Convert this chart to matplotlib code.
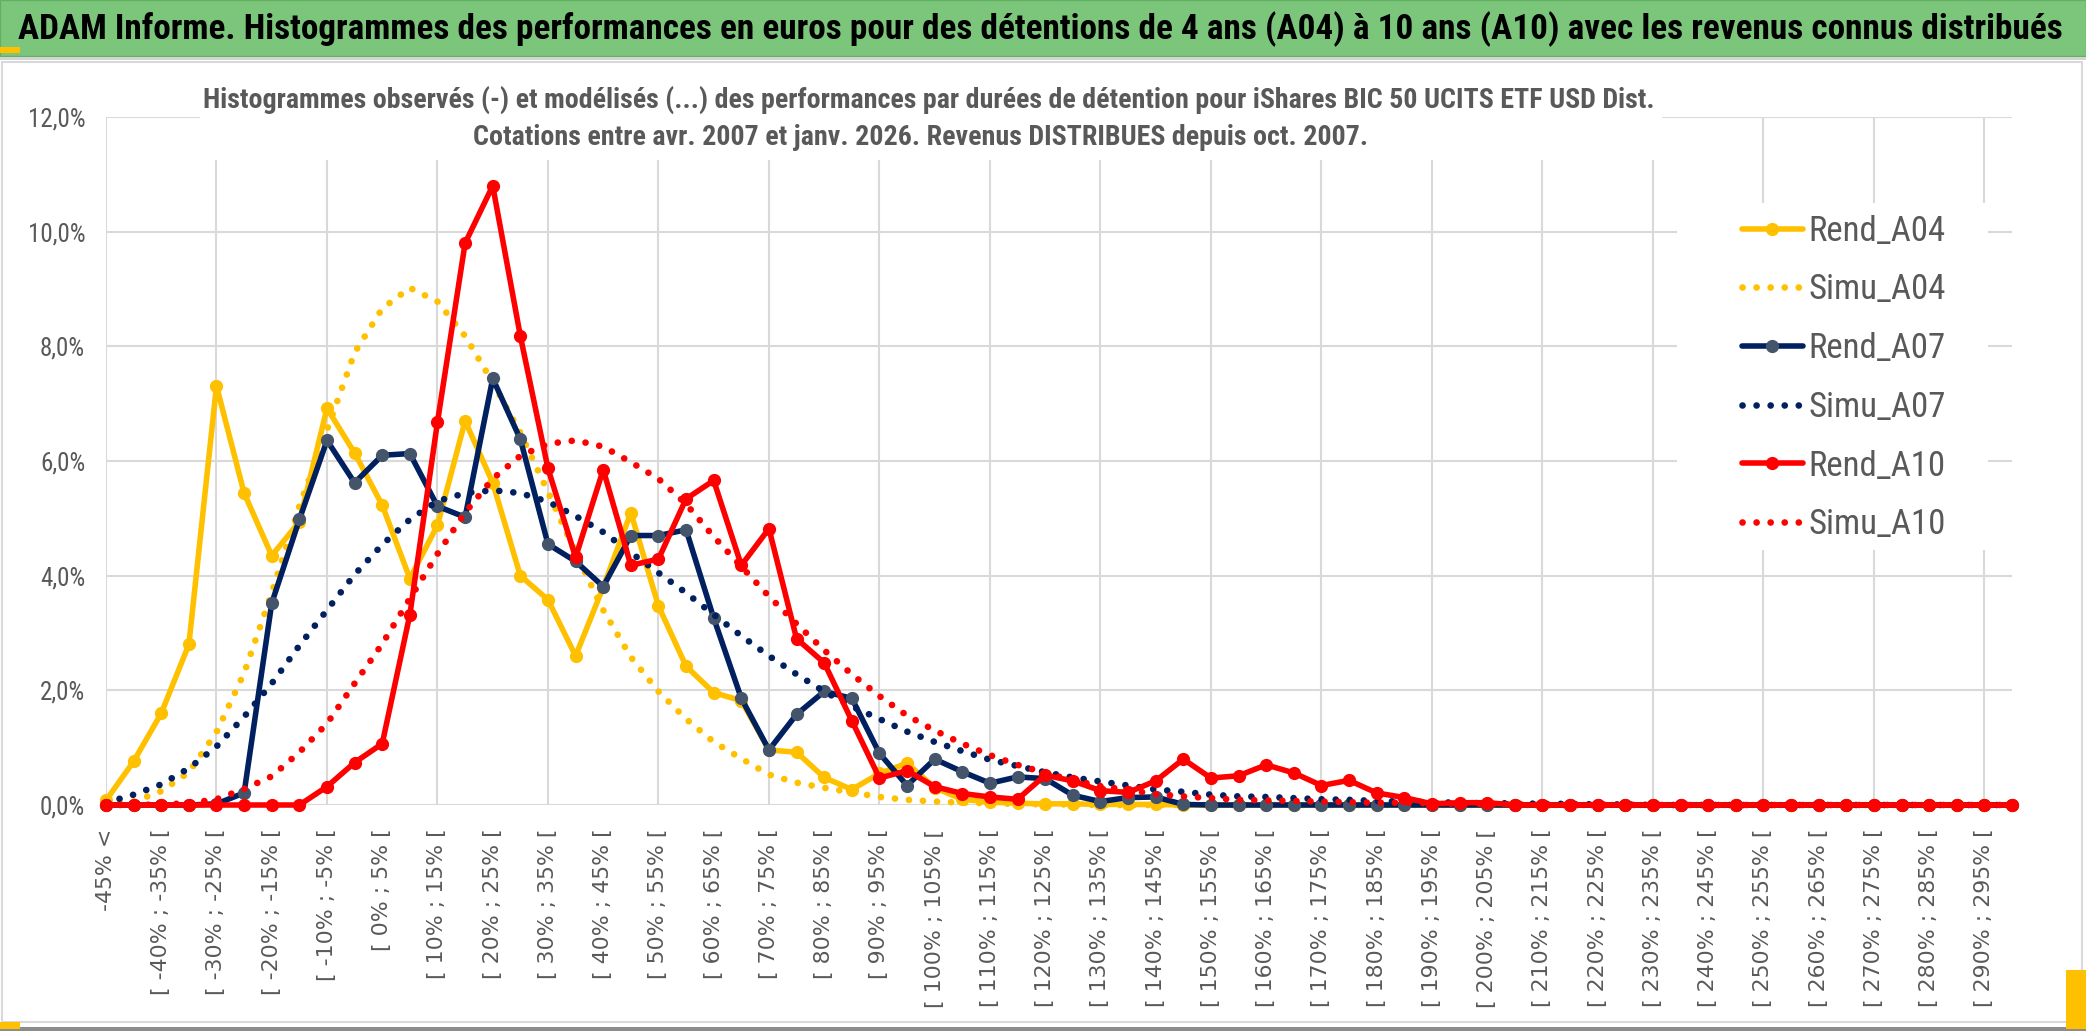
import matplotlib
matplotlib.use("Agg")
import matplotlib.pyplot as plt
from matplotlib.patches import Rectangle
from matplotlib.ticker import FuncFormatter

# classes de performance : "-45% <" puis des tranches de 5%
categories = ["-45% <"] + ["[ %d%% ; %d%% [" % (lo, lo + 5) for lo in range(-45, 300, 5)]

# frequences en %
rend_a04 = [0.08, 0.76, 1.60, 2.80, 7.31, 5.44, 4.35, 4.94, 6.92, 6.14,
            5.23, 3.95, 4.88, 6.70, 5.62, 4.00, 3.58, 2.60, 3.80, 5.10,
            3.47, 2.42, 1.96, 1.82, 0.96, 0.92, 0.48, 0.27, 0.55, 0.73,
            0.30, 0.10, 0.05, 0.03, 0.02, 0.02, 0.01, 0.01, 0.01, 0.00,
            0, 0, 0, 0, 0, 0, 0, 0, 0, 0,
            0, 0, 0, 0, 0, 0, 0, 0, 0, 0,
            0, 0, 0, 0, 0, 0, 0, 0, 0, 0]
simu_a04 = [0.01, 0.06, 0.24, 0.57, 1.27, 2.30, 3.70, 5.21, 6.54, 7.89,
            8.66, 9.02, 8.78, 8.18, 7.37, 6.49, 5.46, 4.40, 3.40, 2.58,
            1.98, 1.50, 1.10, 0.81, 0.53, 0.39, 0.30, 0.22, 0.14, 0.09,
            0.06, 0.04, 0.03, 0.02, 0.01, 0.01, 0, 0, 0, 0,
            0, 0, 0, 0, 0, 0, 0, 0, 0, 0,
            0, 0, 0, 0, 0, 0, 0, 0, 0, 0,
            0, 0, 0, 0, 0, 0, 0, 0, 0, 0]
rend_a07 = [0.00, 0.00, 0.00, 0.00, 0.02, 0.21, 3.52, 4.98, 6.36, 5.62,
            6.10, 6.13, 5.21, 5.02, 7.44, 6.38, 4.55, 4.25, 3.81, 4.70,
            4.70, 4.80, 3.26, 1.86, 0.96, 1.58, 1.98, 1.86, 0.90, 0.34,
            0.80, 0.58, 0.38, 0.49, 0.46, 0.17, 0.06, 0.13, 0.14, 0.01,
            0, 0, 0, 0, 0, 0, 0, 0, 0, 0,
            0, 0, 0, 0, 0, 0, 0, 0, 0, 0,
            0, 0, 0, 0, 0, 0, 0, 0, 0, 0]
simu_a07 = [0.04, 0.18, 0.36, 0.64, 1.02, 1.54, 2.12, 2.78, 3.40, 4.02,
            4.54, 4.98, 5.30, 5.44, 5.49, 5.44, 5.29, 5.04, 4.76, 4.40,
            4.05, 3.70, 3.32, 2.95, 2.60, 2.28, 1.98, 1.72, 1.50, 1.28,
            1.10, 0.94, 0.79, 0.68, 0.57, 0.48, 0.41, 0.34, 0.27, 0.23,
            0.18, 0.15, 0.14, 0.12, 0.10, 0.09, 0.07, 0.06, 0.05, 0.04,
            0.03, 0.03, 0.02, 0.02, 0.01, 0.01, 0, 0, 0, 0,
            0, 0, 0, 0, 0, 0, 0, 0, 0, 0]
rend_a10 = [0, 0, 0, 0, 0, 0, 0, 0, 0.32, 0.74,
            1.07, 3.32, 6.68, 9.80, 10.80, 8.18, 5.87, 4.32, 5.85, 4.18,
            4.29, 5.34, 5.66, 4.18, 4.82, 2.90, 2.48, 1.47, 0.47, 0.60,
            0.32, 0.20, 0.14, 0.10, 0.52, 0.42, 0.25, 0.22, 0.42, 0.80,
            0.47, 0.51, 0.70, 0.56, 0.34, 0.43, 0.21, 0.13, 0.02, 0.04,
            0.04, 0, 0, 0, 0, 0, 0, 0, 0, 0,
            0, 0, 0, 0, 0, 0, 0, 0, 0, 0]
simu_a10 = [0.00, 0.00, 0.01, 0.03, 0.10, 0.28, 0.50, 0.92, 1.42, 2.12,
            2.81, 3.60, 4.38, 5.10, 5.69, 6.09, 6.30, 6.36, 6.25, 5.98,
            5.69, 5.25, 4.68, 4.16, 3.64, 3.16, 2.70, 2.28, 1.90, 1.56,
            1.30, 1.07, 0.87, 0.70, 0.56, 0.43, 0.33, 0.26, 0.19, 0.15,
            0.12, 0.09, 0.08, 0.07, 0.06, 0.05, 0.04, 0.04, 0.03, 0.02,
            0.02, 0.01, 0, 0, 0, 0, 0, 0, 0, 0,
            0, 0, 0, 0, 0, 0, 0, 0, 0, 0]

titre = ("ADAM Informe. Histogrammes des performances en euros pour des détentions "
         "de 4 ans (A04) à 10 ans (A10) avec les revenus connus distribués")
sous_titre1 = ("Histogrammes observés (-) et modélisés (...) des performances par durées "
               "de détention pour iShares BIC 50 UCITS ETF USD Dist.")
sous_titre2 = "Cotations entre avr. 2007 et janv. 2026. Revenus DISTRIBUES depuis oct. 2007."

NARROW = ["Liberation Sans Narrow", "Roboto Condensed", "Lato", "DejaVu Sans"]
GREY = "#595959"
GRID = "#d9d9d9"
YELLOW = "#ffc000"
NAVY = "#002060"
SLATE = "#44546a"
RED = "#ff0000"

W, H = 2086, 1031
fig = plt.figure(figsize=(W / 100, H / 100), dpi=100)
fig.patch.set_facecolor("white")


def fx(px):
    return px / W


def fy(py):
    return 1 - py / H


def box(x0, y0, x1, y1, **kw):
    r = Rectangle((fx(x0), fy(y1)), (x1 - x0) / W, (y1 - y0) / H,
                  transform=fig.transFigure, **kw)
    fig.patches.append(r)
    return r


# bandeau vert + cadre du graphique
box(0, 0, W, 56, facecolor="#7cc67c", edgecolor="#62b062", lw=1, zorder=0)
box(0, 57, W, 60, facecolor="#d4d4d4", edgecolor="none", zorder=0)
box(2, 62, 2082, 1022, facecolor="none", edgecolor=GRID, lw=1.5, zorder=0)
box(0, 1027, W, 1031, facecolor="#8c8c8c", edgecolor="none", zorder=0)
box(0, 47, 20, 53, facecolor=YELLOW, edgecolor="none", zorder=1)
box(0, 1022, 20, 1029, facecolor=YELLOW, edgecolor="none", zorder=1)
box(2066, 970, W, 1029, facecolor=YELLOW, edgecolor="none", zorder=1)

ax = fig.add_axes([fx(106), fy(805), fx(2012) - fx(106), (805 - 117) / H])
x = list(range(len(categories)))

solid = dict(lw=4.0, marker="o", ms=8.5, clip_on=False, zorder=3,
             solid_joinstyle="round", solid_capstyle="round")
dotted = dict(lw=4.8, ls=(0, (0.01, 2.1)), dash_capstyle="round", clip_on=False, zorder=3)

ax.plot(x, rend_a04, color=YELLOW, label="Rend_A04", **solid)
ax.plot(x, simu_a04, color=YELLOW, label="Simu_A04", **dotted)
ax.plot(x, rend_a07, color=NAVY, mfc=SLATE, mec=SLATE, label="Rend_A07", **solid)
ax.plot(x, simu_a07, color=NAVY, label="Simu_A07", **dotted)
ax.plot(x, rend_a10, color=RED, label="Rend_A10", **solid)
ax.plot(x, simu_a10, color=RED, label="Simu_A10", **dotted)

ax.set_xlim(0, len(categories) - 1)
ax.set_ylim(0, 12)
ax.set_yticks(range(0, 13, 2))
ax.yaxis.set_major_formatter(FuncFormatter(lambda v, p: ("%.1f%%" % v).replace(".", ",")))
for lab in ax.get_yticklabels():
    lab.set_family(NARROW)
    lab.set_fontsize(18)
    lab.set_color(GREY)

ax.set_xticks(x[::2])
ax.set_xticklabels(categories[::2], rotation=90, family="DejaVu Sans",
                   fontsize=15.8, color=GREY)
ax.set_xticks(x[::4], minor=True)
ax.xaxis.remove_overlapping_locs = False
ax.grid(axis="y", color=GRID, lw=1.5)
ax.grid(axis="x", which="minor", color=GRID, lw=1.5)
ax.set_axisbelow(True)
ax.tick_params(which="both", length=0)
ax.tick_params(axis="x", pad=17)
ax.tick_params(axis="y", pad=15)
for s in ax.spines.values():
    s.set_visible(False)

# zones blanches du titre et de la legende (cachent le quadrillage)
box(200, 78, 1662, 160, facecolor="white", edgecolor="none", zorder=1)
box(1677, 203, 1988, 550, facecolor="white", edgecolor="none", zorder=1)

t = fig.text(fx(1040), fy(29), titre, ha="center", va="center", family=NARROW,
             fontsize=24, fontweight="bold", color="black")
s1 = fig.text(fx(929), fy(100), sous_titre1, ha="center", va="center", family=NARROW,
              fontsize=18, fontweight="bold", color=GREY)
s2 = fig.text(fx(921), fy(137), sous_titre2, ha="center", va="center", family=NARROW,
              fontsize=18, fontweight="bold", color=GREY)

handles, labels = ax.get_legend_handles_labels()
fig.legend(handles, labels, loc="center left", bbox_to_anchor=(fx(1742), fy(378)),
           frameon=False, borderpad=0, borderaxespad=0, handlelength=1.75,
           handletextpad=0.17, labelspacing=0.74, labelcolor=GREY,
           prop=dict(family=NARROW, size=25))

# ajuste la taille des textes a la largeur du modele
r = fig.canvas.get_renderer()
w = t.get_window_extent(renderer=r).width
t.set_fontsize(t.get_fontsize() * 2055 / w)
w = s1.get_window_extent(renderer=r).width
s1.set_fontsize(s1.get_fontsize() * 1454 / w)
s2.set_fontsize(s1.get_fontsize())

fig.savefig("out.png", dpi=100, facecolor="white")
